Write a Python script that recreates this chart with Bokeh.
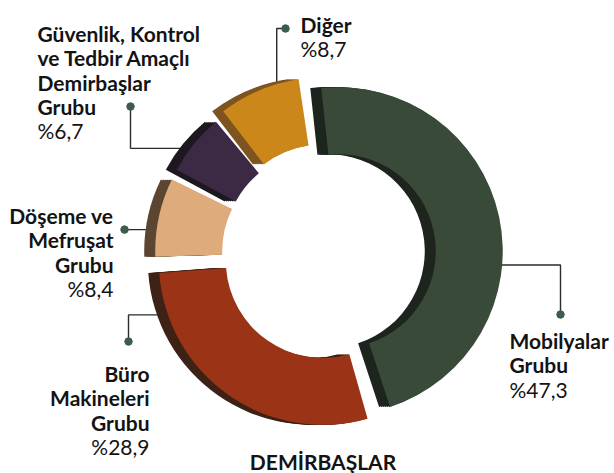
import math
from bokeh.plotting import figure
from bokeh.models import ColumnDataSource, Range1d
from bokeh.embed import file_html
from bokeh.resources import INLINE
from bokeh.core.properties import value

# ---------------- data ----------------
categories = ["Büro Makineleri Grubu", "Mobilyalar Grubu", "Diğer",
              "Güvenlik, Kontrol ve Tedbir Amaçlı Demirbaşlar Grubu",
              "Döşeme ve Mefruşat Grubu"]
label_lines = [["Büro", "Makineleri", "Grubu"],
               ["Mobilyalar", "Grubu"],
               ["Diğer"],
               ["Güvenlik, Kontrol", "ve Tedbir Amaçlı", "Demirbaşlar", "Grubu"],
               ["Döşeme ve", "Mefruşat", "Grubu"]]
shares = [28.9, 47.3, 8.7, 6.7, 8.4]
title_text = "DEMİRBAŞLAR"

# ---------------- style / layout ----------------
W, H = 614, 473
def Y(v):            # picture pixel row -> data y
    return H - v

face_colors = ["#9b3416", "#3a4a38", "#cb8719", "#3c2a44", "#ddab7c"]
side_colors = ["#3e2216", "#1e251e", "#7e5420", "#1f1820", "#5b4631"]
CX, CY = 327.5, Y(253)
R_OUT, R_IN = 164, 97
START_DEG = 183.0
PAD_DEG = 1.2
EXPLODE = [9, 11, 13, 9, 9]
SIDE_SHIFTS = [11, 9, 7, 5, 3, 1]
FONT = value("Lato")
FS = "21px"
LINE_H = 24.3
TXT = "#131313"

# label layout: x, first baseline row, align
label_pos = [(149, 373, "right"), (509, 340, "left"), (300, 24, "left"),
             (37, 33, "left"), (113, 215, "right")]
# leader: anchor angle on the segment, orientation, dot position (None -> same row as anchor)
leaders = [(200, "h", (128, 341)), (-5, "h", (560, 314)), (107, "v", (285, 28)),
           (141, "h", (130, 106)), (172, "h", (124, None))]

# ---------------- geometry ----------------
total = sum(shares)
cum = 0.0
seg = dict(x=[], y=[], a0=[], a1=[], face=[], side=[])
for i, v in enumerate(shares):
    a0 = START_DEG + cum / total * 360 + PAD_DEG
    cum += v
    a1 = START_DEG + cum / total * 360 - PAD_DEG
    mid = math.radians((a0 + a1) / 2)
    seg["x"].append(CX + EXPLODE[i] * math.cos(mid))
    seg["y"].append(CY + EXPLODE[i] * math.sin(mid))
    seg["a0"].append(math.radians(a0))
    seg["a1"].append(math.radians(a1))
    seg["face"].append(face_colors[i])
    seg["side"].append(side_colors[i])

side = dict(x=[], y=[], a0=[], a1=[], c=[])
for s in SIDE_SHIFTS:
    for i in range(len(shares)):
        side["x"].append(seg["x"][i] - s)
        side["y"].append(seg["y"][i])
        side["a0"].append(seg["a0"][i])
        side["a1"].append(seg["a1"][i])
        side["c"].append(seg["side"][i])

p = figure(width=W, height=H, output_backend="svg", toolbar_location=None,
           x_range=Range1d(0, W), y_range=Range1d(0, H), min_border=0)
p.axis.visible = False
p.grid.visible = False
p.outline_line_color = None
p.background_fill_color = "white"
p.border_fill_color = "white"

# leader lines (drawn first so their ends tuck under the slices)
xs, ys, dx, dy = [], [], [], []
for i, (ang, orient, dot) in enumerate(leaders):
    a = math.radians(ang)
    ax = seg["x"][i] + (R_OUT - 6) * math.cos(a)
    ay = seg["y"][i] + (R_OUT - 6) * math.sin(a)
    px_, py_ = dot
    if orient == "h":
        py = Y(py_) if py_ is not None else ay
        pts = [(ax, ay), (px_, ay), (px_, py)]
    else:
        py = Y(py_)
        pts = [(ax, ay), (ax, py), (px_, py)]
    xs.append([q[0] for q in pts])
    ys.append([q[1] for q in pts])
    dx.append(px_)
    dy.append(py)
p.multi_line(xs=xs, ys=ys, line_color="#2b2b2b", line_width=1.4)
p.scatter(x=dx, y=dy, size=7.5, marker="circle", color="#3d5c4b")

# extruded sides
p.annular_wedge(x="x", y="y", inner_radius=R_IN, outer_radius=R_OUT,
                start_angle="a0", end_angle="a1", fill_color="c", line_color=None,
                source=ColumnDataSource(side))
# faces
p.annular_wedge(x="x", y="y", inner_radius=R_IN, outer_radius=R_OUT,
                start_angle="a0", end_angle="a1", fill_color="face", line_color=None,
                source=ColumnDataSource({k: seg[k] for k in ["x", "y", "a0", "a1", "face"]}))

# labels
bx, by, bt, ba = [], [], [], []
rx, ry, rt, ra = [], [], [], []
for i, lines in enumerate(label_lines):
    x0, b0, al = label_pos[i]
    for j, t in enumerate(lines):
        bx.append(x0); by.append(Y(b0 + j * LINE_H)); bt.append(t); ba.append(al)
    rx.append(x0); ry.append(Y(b0 + len(lines) * LINE_H))
    rt.append("%" + format(shares[i], ".1f").replace(".", ",")); ra.append(al)

p.text(x="x", y="y", text="t", text_align="a",
       source=ColumnDataSource(dict(x=bx, y=by, t=bt, a=ba)),
       text_font=FONT, text_font_style="bold", text_font_size=FS,
       text_baseline="alphabetic", text_color=TXT)
p.text(x="x", y="y", text="t", text_align="a",
       source=ColumnDataSource(dict(x=rx, y=ry, t=rt, a=ra)),
       text_font=FONT, text_font_style="normal", text_font_size=FS,
       text_baseline="alphabetic", text_color=TXT)
p.text(x=[322.5], y=[Y(461)], text=[title_text], text_align="center",
       text_font=FONT, text_font_style="bold", text_font_size=FS,
       text_baseline="alphabetic", text_color=TXT)

open("out.html", "w").write(file_html(p, INLINE))
